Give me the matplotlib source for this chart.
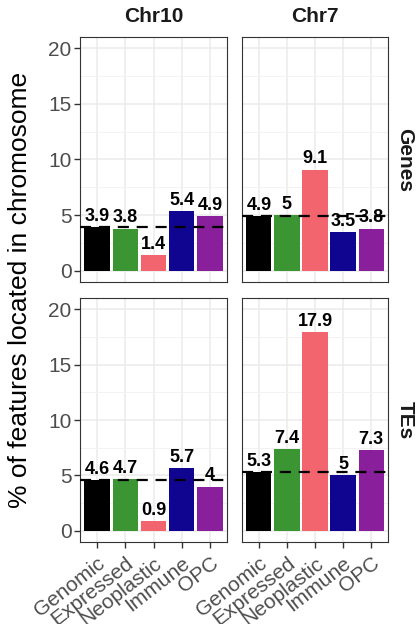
import numpy as np
import matplotlib
matplotlib.use("Agg")
import matplotlib.pyplot as plt

plt.rcParams["font.family"] = ["Liberation Sans", "DejaVu Sans"]

# datos por panel
categorias = ["Genomic", "Expressed", "Neoplastic", "Immune", "OPC"]
colores = ["#000000", "#3a9532", "#f2646e", "#0f0590", "#8a1f9c"]
cromosomas = ["Chr10", "Chr7"]
tipos = ["Genes", "TEs"]

genes_chr10 = [3.9, 3.8, 1.4, 5.4, 4.9]
genes_chr7 = [4.9, 5, 9.1, 3.5, 3.8]
tes_chr10 = [4.6, 4.7, 0.9, 5.7, 4]
tes_chr7 = [5.3, 7.4, 17.9, 5, 7.3]

valores = {
    ("Genes", "Chr10"): genes_chr10,
    ("Genes", "Chr7"): genes_chr7,
    ("TEs", "Chr10"): tes_chr10,
    ("TEs", "Chr7"): tes_chr7,
}

W, H = 417, 624
fig = plt.figure(figsize=(W / 100, H / 100), dpi=100)
fig.patch.set_facecolor("white")

cols_px = [(80, 227), (242, 388)]
rows_px = [(37, 282), (298, 542)]

x = np.arange(1, len(categorias) + 1)

for i, tipo in enumerate(tipos):
    for j, chrom in enumerate(cromosomas):
        l, r = cols_px[j]
        t, b = rows_px[i]
        ax = fig.add_axes([l / W, 1 - b / H, (r - l) / W, (b - t) / H])
        v = valores[(tipo, chrom)]

        ax.set_xlim(0.4, 5.6)
        ax.set_ylim(-1, 21)
        ax.set_yticks([0, 5, 10, 15, 20])
        ax.set_yticks([2.5, 7.5, 12.5, 17.5], minor=True)
        ax.set_xticks(x)
        ax.grid(True, which="major", color="#ebebeb", linewidth=1.1, zorder=0)
        ax.grid(True, which="minor", axis="y", color="#f2f2f2", linewidth=0.7, zorder=0)
        ax.set_axisbelow(True)

        ax.bar(x, v, width=0.9, color=colores, zorder=2)
        ax.axhline(v[0], color="black", linewidth=1.6, linestyle=(0, (5, 3.5)), zorder=3)
        for xi, vi in zip(x, v):
            ax.annotate(f"{vi:g}", (xi, vi), xytext=(0, 1.5), textcoords="offset points",
                        ha="center", va="bottom", fontsize=13, fontweight="bold",
                        color="black", zorder=4)

        for s in ax.spines.values():
            s.set_color("#333333")
            s.set_linewidth(0.8)
        ax.tick_params(axis="both", which="minor", length=0)
        ax.tick_params(axis="y", length=4, width=1, color="#333333",
                       labelsize=15, labelcolor="#4d4d4d", pad=2)
        ax.tick_params(axis="x", length=4.5, width=1, color="#333333",
                       labelsize=15, labelcolor="#4d4d4d", pad=4)

        if j == 0:
            ax.set_yticklabels(["0", "5", "10", "15", "20"])
        else:
            ax.set_yticklabels([])
            ax.tick_params(axis="y", length=0)
        if i == len(tipos) - 1:
            ax.set_xticklabels(categorias, rotation=38, ha="right", va="top",
                               rotation_mode="anchor")
        else:
            ax.set_xticklabels([])
            ax.tick_params(axis="x", length=0)

        if i == 0:
            fig.text((l + r) / 2 / W, 1 - 17 / H, chrom, ha="center", va="center",
                     fontsize=15, fontweight="bold", color="#1a1a1a")
        if j == len(cromosomas) - 1:
            fig.text(405 / W, 1 - (t + b) / 2 / H, tipo, ha="center", va="center",
                     rotation=-90, fontsize=15, fontweight="bold", color="#1a1a1a")

fig.text(20 / W, 1 - 290 / H, "% of features located in chromosome", ha="center",
         va="center", rotation=90, fontsize=19, color="black")

plt.savefig("out.png", dpi=100, facecolor="white")
plt.close()
